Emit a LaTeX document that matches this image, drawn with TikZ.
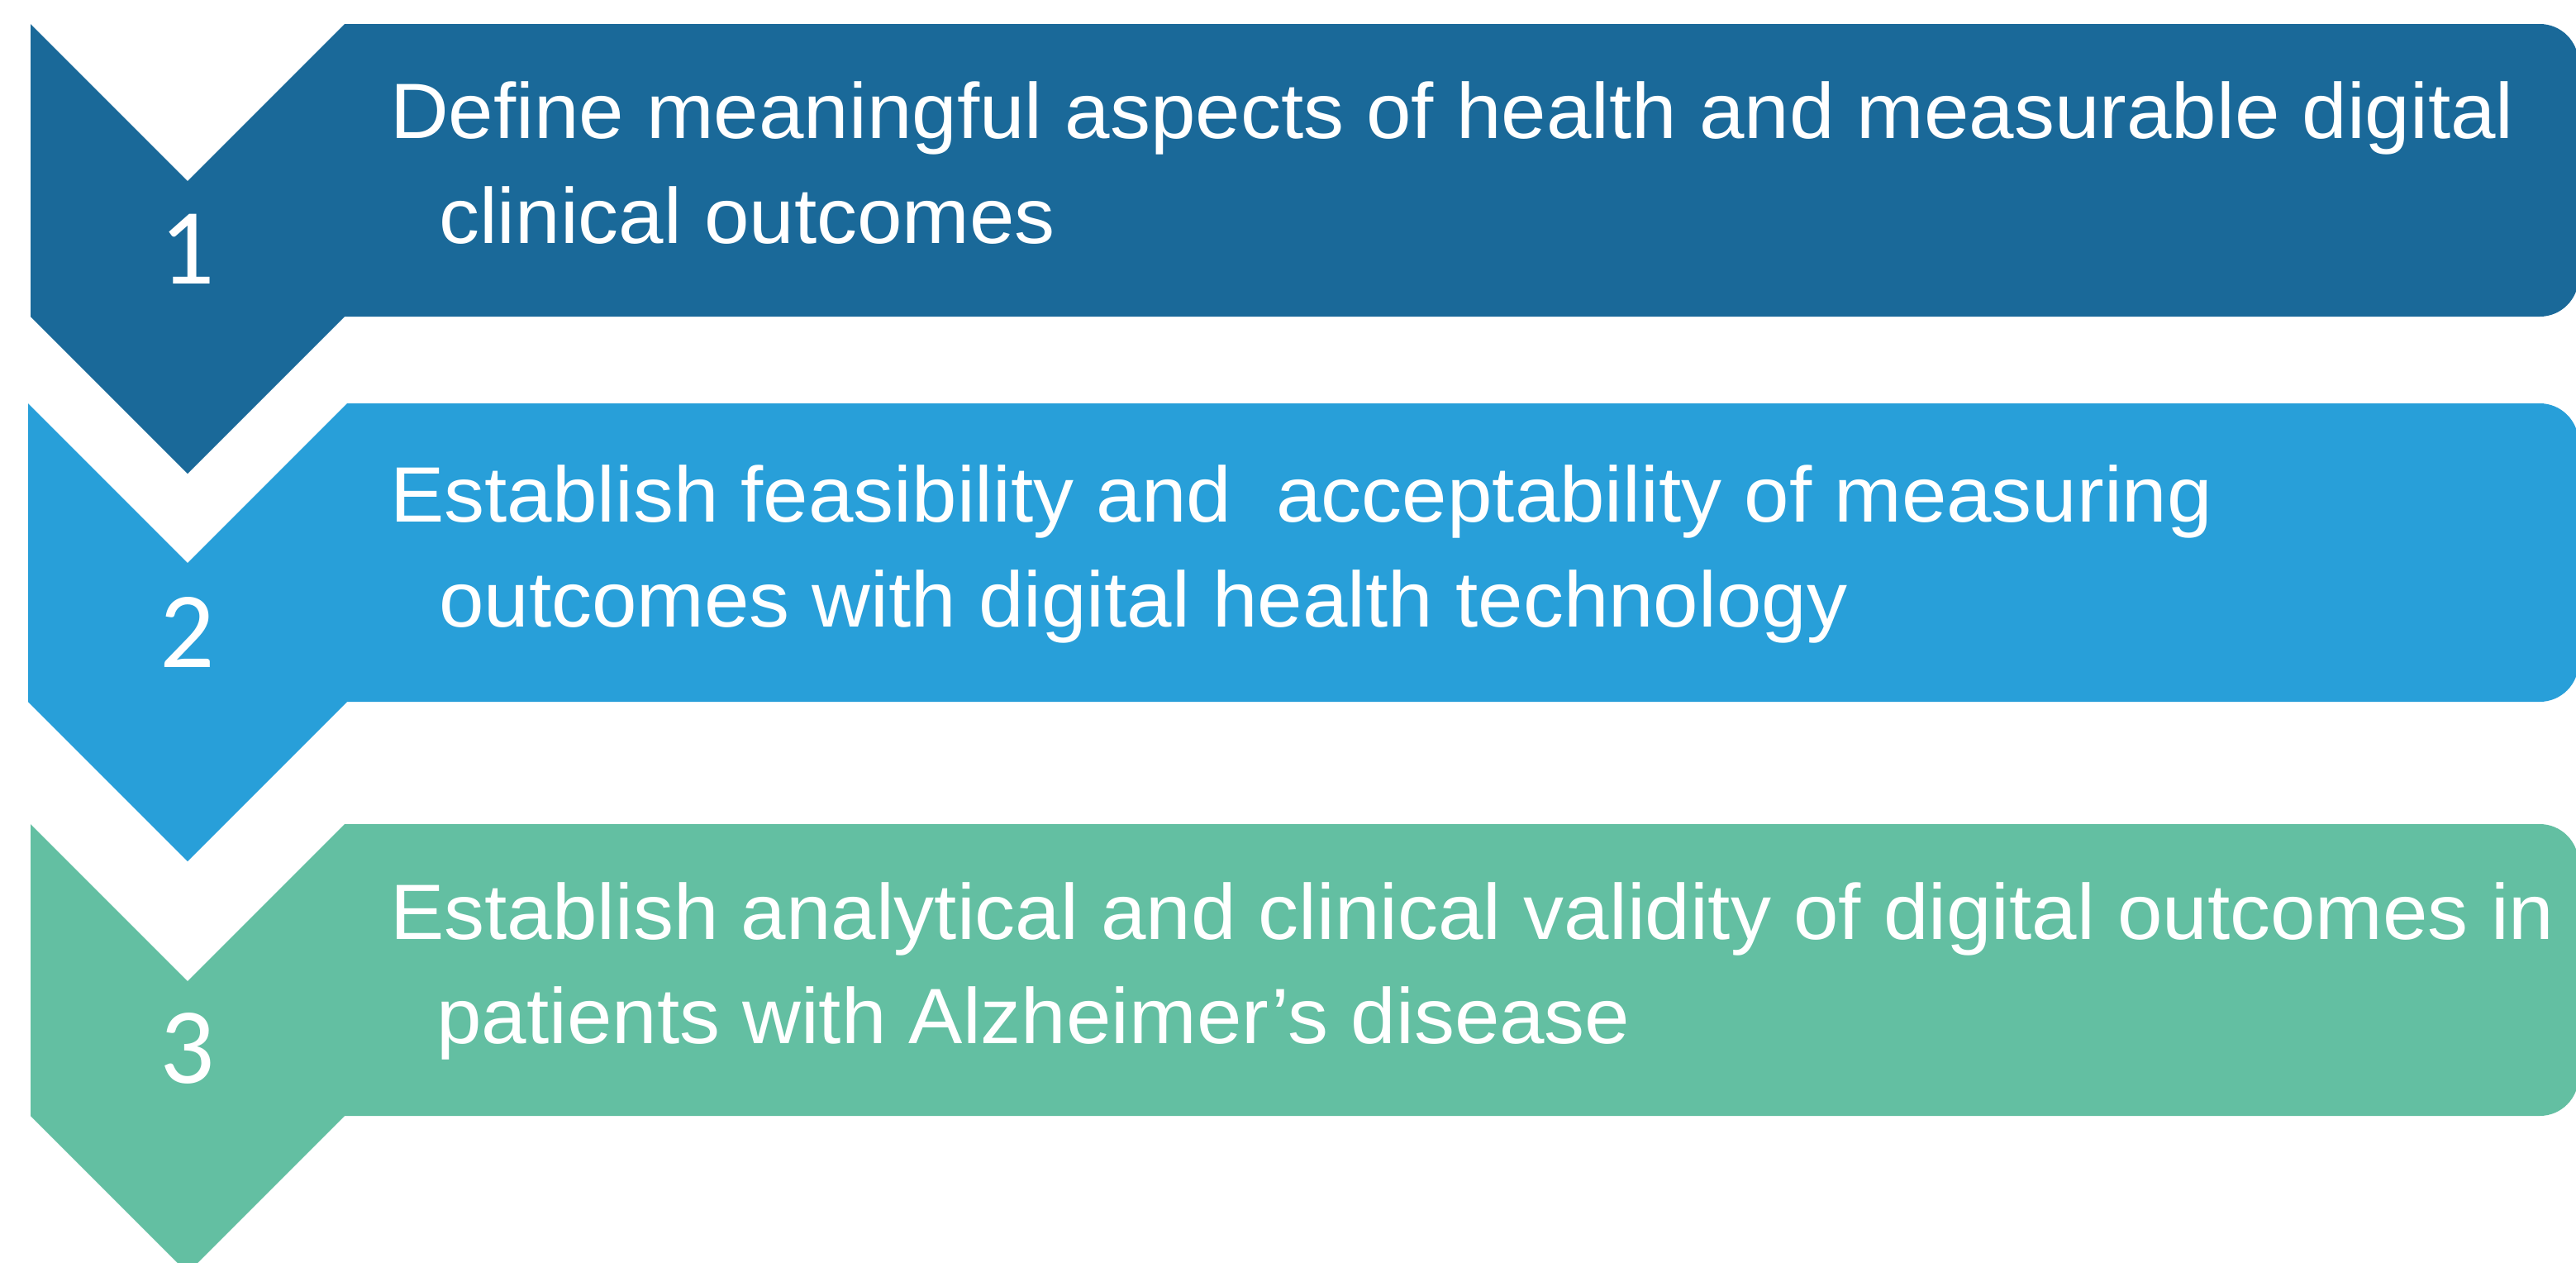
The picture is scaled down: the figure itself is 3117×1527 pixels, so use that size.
\documentclass[tikz,border=0pt]{standalone}
\usepackage{fontspec}
\newfontfamily\txtfont[FakeStretch=1.031]{Liberation Sans}
\newfontfamily\numfont{Carlito}
\definecolor{cdark}{HTML}{1A6999}
\definecolor{clight}{HTML}{289FD9}
\definecolor{cgreen}{HTML}{63BFA2}
\newcommand{\stagerow}[5]{% name, top, bottom, halfwidth, colour
  \fill[#5] ({227-#4},#2) -- (227,{#2+#4}) -- ({227+#4},#2) -- ({227+#4},#3) -- (227,{#3+#4}) -- ({227-#4},#3) -- cycle;
  \fill[#5] ({227+#4},#2) {[rounded corners=47] -- (3120,#2) -- (3120,#3)} -- ({227+#4},#3) -- cycle;
  \node[numtxt] (#1) at (227,{(#2+#4+#3)/2}) {\numfont #1};
}
\begin{document}
\begin{tikzpicture}[x=1pt,y=-1pt,
  numtxt/.style={text=white,inner sep=0pt,font=\fontsize{131}{131}\selectfont},
  linetxt/.style={text=white,inner sep=0pt,anchor=base west,font=\txtfont\fontsize{95}{127}\selectfont}]
\useasboundingbox (0,0) rectangle (3117,1527);
\fill[white] (0,0) rectangle (3117,1527);
\stagerow{1}{29}{383}{190}{cdark}
\stagerow{2}{488}{849}{193}{clight}
\stagerow{3}{997}{1350}{190}{cgreen}
\node[linetxt] (t1a) at (472,167) {Define meaningful aspects of health and measurable digital};
\node[linetxt] (t1b) at (531,294) {clinical outcomes};
\node[linetxt] (t2a) at (472,631) {Establish feasibility and \ acceptability of measuring};
\node[linetxt] (t2b) at (531,758) {outcomes with digital health technology};
\node[linetxt] (t3a) at (472,1136) {Establish analytical and clinical validity of digital outcomes in};
\node[linetxt] (t3b) at (528,1262) {patients with Alzheimer’s disease};
\end{tikzpicture}
\end{document}
